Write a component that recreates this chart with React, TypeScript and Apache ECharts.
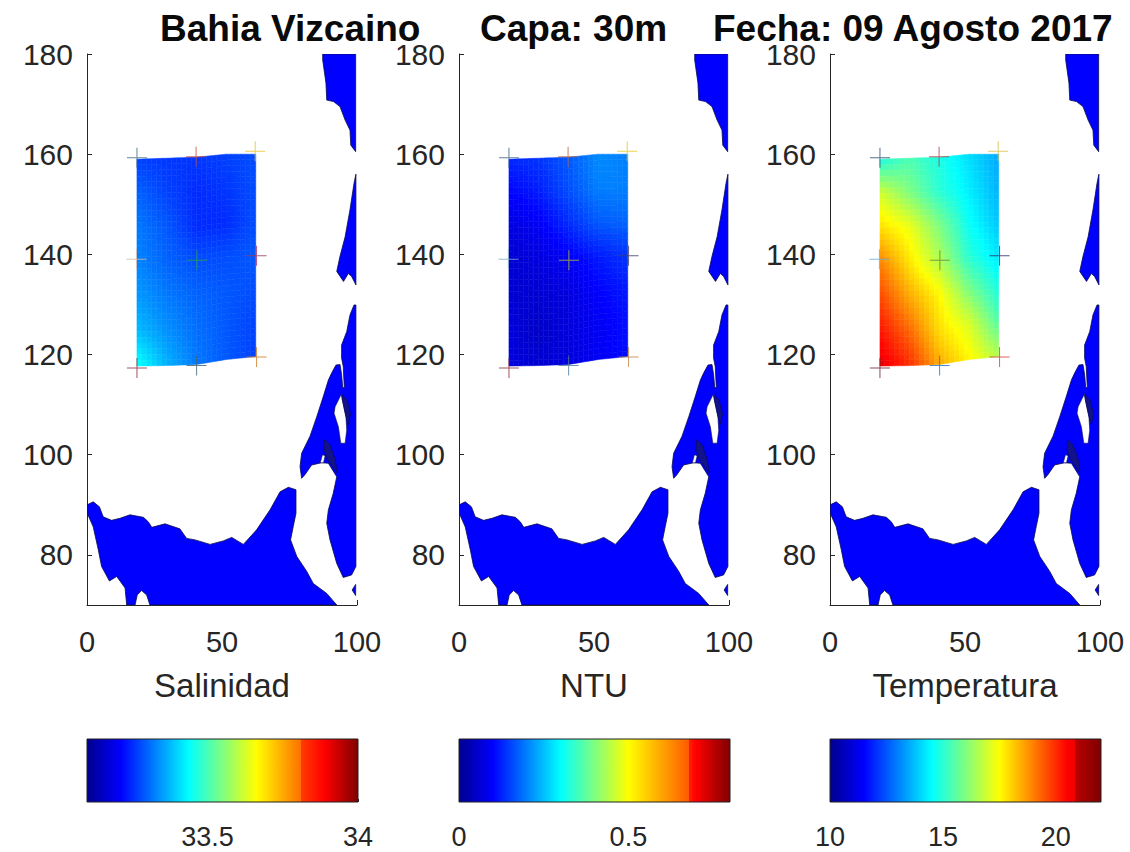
import React, { useEffect, useRef } from "react";
import * as echarts from "echarts";

const FONT = "'Liberation Sans', Arial, sans-serif";
const INK = "#262626";

const panelNames = ["Salinidad", "NTU", "Temperatura"];
const titles = ["Bahia Vizcaino", "Capa: 30m", "Fecha: 09 Agosto 2017"];
const titleLeft = [160, 480, 713];
const panelLeft = [87, 459, 830];

const xTicks = [0, 50, 100];
const yTicks = [80, 100, 120, 140, 160, 180];

const barMin = [33.1, 0, 10];
const barMax = [34, 0.8, 22];
const barTicks = [[33.5, 34], [0, 0.5], [10, 15, 20]];
const barSeam = [
  [0.79, "#ff7000", "#ff3c00"],
  [0.85, "#ff5a00", "#ff1e00"],
  [0.906, "#f00000", "#b80000"],
];

const jetStops: [number, string][] = [
  [0, "#00008f"],
  [0.125, "#0000ff"],
  [0.375, "#00ffff"],
  [0.625, "#ffff00"],
  [0.875, "#ff0000"],
  [1, "#800000"],
];

// Field nodes
const fieldLon = [18.5, 29.5, 40.5, 51.5, 62.5];
const fieldTop = [159, 159.2, 159.4, 160, 160];
const fieldBottom = [117.7, 117.8, 118, 119, 119.6];
const fieldRows = [0, 1 / 6, 2 / 6, 3 / 6, 4 / 6, 5 / 6, 1];

const salinity = [
  [33.27, 33.26, 33.26, 33.27, 33.28],
  [33.3, 33.27, 33.25, 33.26, 33.28],
  [33.32, 33.29, 33.25, 33.25, 33.28],
  [33.33, 33.3, 33.28, 33.28, 33.29],
  [33.35, 33.32, 33.3, 33.29, 33.28],
  [33.38, 33.34, 33.31, 33.29, 33.27],
  [33.45, 33.37, 33.32, 33.29, 33.27],
];
const ntu = [
  [0.13, 0.14, 0.17, 0.21, 0.2],
  [0.1, 0.12, 0.16, 0.2, 0.2],
  [0.07, 0.09, 0.13, 0.17, 0.18],
  [0.06, 0.07, 0.09, 0.12, 0.14],
  [0.06, 0.06, 0.07, 0.1, 0.12],
  [0.07, 0.05, 0.07, 0.09, 0.11],
  [0.07, 0.06, 0.07, 0.09, 0.11],
];
const temperature = [
  [14.8, 15.4, 14.8, 14.1, 13.5],
  [17.0, 16.0, 15.0, 14.3, 13.6],
  [17.9, 17.3, 16.0, 14.6, 13.8],
  [19.0, 17.8, 16.6, 15.0, 14.2],
  [19.7, 18.5, 17.6, 16.0, 14.8],
  [20.3, 19.3, 17.9, 17.1, 15.5],
  [20.8, 20.0, 18.5, 17.6, 16.6],
];
const fields = [salinity, ntu, temperature];

// Stations
const stationLon = [18.5, 40.4, 62.3, 18.3, 40.7, 62.8, 18.5, 40.6, 62.8];
const stationLat = [159.3, 159.5, 160.6, 139, 138.8, 139.7, 117.3, 117.8, 119.5];
const stationColors = [
  ["#3f6a7c", "#c9482f", "#e8c020", "#d8b8a8", "#2ea03a", "#a03060", "#8a2a3a", "#40606e", "#d07a20"],
  ["#3f6080", "#b8623a", "#e6c820", "#80a8c8", "#b0b830", "#3a3a60", "#8a2a30", "#4a7a9a", "#c08040"],
  ["#2a4a70", "#b03a4a", "#d8c040", "#60b0d0", "#708040", "#2a2a70", "#6a2030", "#2070c0", "#d04030"],
];

// Coast
const southLand = [
  [0.1, 90], [2.3, 90.6], [4.6, 89.6], [6, 87.6], [9.1, 86.9], [12.2, 87.3], [15.9, 88], [20.9, 87.5],
  [22.7, 86.6], [24, 85.5], [28.9, 86.2], [34.4, 85.2], [36.9, 83.3], [40, 83], [45.6, 82.1], [50.5, 82.8],
  [53.6, 83.5], [57.9, 82.1], [62.8, 85], [67.8, 89], [71.5, 92.6], [74.6, 93.5], [77.4, 93], [77.4, 88.3],
  [76.4, 85.7], [75.4, 83], [77.7, 79.7], [81.4, 76.7], [83.8, 74.3], [88.8, 72.3], [92.5, 70], [23.3, 70],
  [22.1, 72], [20.2, 72.9], [18.6, 72], [17.8, 70], [14.7, 70], [14.1, 73.4], [11, 75.7], [8.3, 74.8],
  [5.4, 77.7], [4.2, 81], [2.3, 85.6], [0.1, 88.3],
];
const northLand = [
  [87.3, 180], [99.5, 180], [99.5, 160.5], [97.7, 161.8], [97.4, 164.8], [95.6, 166.8], [93.7, 169.5],
  [91.3, 170.5], [88.8, 170.8], [88.5, 174.2], [87.3, 178.8],
];
const midLand = [
  [99.6, 156], [99.6, 133.9], [98, 135.6], [96.8, 136.2], [95, 134.6], [92.5, 136.6], [93.7, 139.6],
  [95.6, 143.5], [97.4, 148.9], [98.9, 154.2],
];
const eastLand = [
  [99.4, 129.9], [99.6, 129.9], [99.6, 77.7], [98, 76], [94.9, 75.5], [92.5, 78.3], [90, 83], [88.8, 86.3],
  [89.4, 89], [91.2, 92.3], [92.5, 95.6], [89.4, 98.3], [86.9, 98.4], [83.2, 97.95], [80.7, 96], [79.5, 95.3],
  [78.9, 97.6], [79.5, 100.3], [82.6, 103.7], [85.1, 107.6], [87.5, 111.6], [89.4, 114.9], [90.6, 116.3],
  [92.2, 117.9], [93.7, 118], [94.3, 116], [94.7, 113.4], [95.3, 113.4], [94.9, 117.6], [94.3, 119.3],
  [94.3, 121.9], [96.2, 124.6], [97.4, 127.9], [98.9, 129.9],
];
const islet = [[98.2, 73], [99.5, 74.1], [99.5, 71.9]];
const landShapes = [southLand, northLand, midLand, eastLand, islet];

const lagoon = [
  [94.3, 112.2], [91.9, 109.6], [91.5, 108.3], [93.1, 105.6], [94, 102.3], [95.6, 102.3], [96.2, 104.9],
  [95.9, 107.6], [94.6, 110.9],
];
const notch = [[86.4, 98.4], [87.2, 100], [88.2, 99.8], [87.6, 98.4]];
const waterShapes = [lagoon, notch];

const reefA = [[88, 103], [90, 102], [92, 99], [92.6, 96.4], [91, 97.6], [89, 99], [87.8, 101]];
const reefB = [[94.2, 112], [96.3, 111], [97.6, 108.2], [96.8, 106], [95.9, 107.6], [94.6, 110.9]];
const reefShapes = [reefA, reefB];

function hexRgb(h: string) {
  return [parseInt(h.slice(1, 3), 16), parseInt(h.slice(3, 5), 16), parseInt(h.slice(5, 7), 16)];
}
function jet(t: number) {
  const v = Math.max(0, Math.min(1, t));
  for (let i = 1; i < jetStops.length; i++) {
    if (v <= jetStops[i][0]) {
      const [a, ca] = jetStops[i - 1];
      const [b, cb] = jetStops[i];
      const f = (v - a) / (b - a);
      const A = hexRgb(ca);
      const B = hexRgb(cb);
      return `rgb(${A.map((c, k) => Math.round(c + (B[k] - c) * f)).join(",")})`;
    }
  }
  return jetStops[jetStops.length - 1][1];
}

function polygonSeries(idx: number, shapes: number[][][], fill: string, stroke: string, lw: number, z: number) {
  return {
    type: "custom",
    xAxisIndex: idx,
    yAxisIndex: idx,
    silent: true,
    clip: true,
    z,
    data: shapes.map((_, i) => [i]),
    renderItem: (params: any, api: any) => ({
      type: "polygon",
      shape: { points: shapes[params.dataIndex].map((p) => api.coord(p)) },
      style: { fill, stroke, lineWidth: lw, lineJoin: "round" },
    }),
  };
}

function fieldSeries(idx: number) {
  const grid = fields[idx];
  const vmin = barMin[idx];
  const vmax = barMax[idx];
  const cells: number[][] = [];
  for (let r = 0; r < fieldRows.length - 1; r++) {
    for (let c = 0; c < fieldLon.length - 1; c++) cells.push([c, r]);
  }
  const SUB = 6;
  const nodeAt = (c: number, r: number, u: number, v: number) => {
    const lon = fieldLon[c] + (fieldLon[c + 1] - fieldLon[c]) * u;
    const top = fieldTop[c] + (fieldTop[c + 1] - fieldTop[c]) * u;
    const bot = fieldBottom[c] + (fieldBottom[c + 1] - fieldBottom[c]) * u;
    const w = fieldRows[r] + (fieldRows[r + 1] - fieldRows[r]) * v;
    return [lon, top + (bot - top) * w];
  };
  return {
    type: "custom",
    xAxisIndex: idx,
    yAxisIndex: idx,
    silent: true,
    clip: false,
    z: 5,
    data: cells,
    renderItem: (params: any, api: any) => {
      const [c, r] = cells[params.dataIndex];
      const q00 = grid[r][c];
      const q10 = grid[r][c + 1];
      const q01 = grid[r + 1][c];
      const q11 = grid[r + 1][c + 1];
      const children: any[] = [];
      for (let i = 0; i < SUB; i++) {
        for (let j = 0; j < SUB; j++) {
          const u = (i + 0.5) / SUB;
          const v = (j + 0.5) / SUB;
          const val = q00 * (1 - u) * (1 - v) + q10 * u * (1 - v) + q01 * (1 - u) * v + q11 * u * v;
          const col = jet((val - vmin) / (vmax - vmin));
          children.push({
            type: "polygon",
            shape: {
              points: [
                api.coord(nodeAt(c, r, i / SUB, j / SUB)),
                api.coord(nodeAt(c, r, (i + 1) / SUB, j / SUB)),
                api.coord(nodeAt(c, r, (i + 1) / SUB, (j + 1) / SUB)),
                api.coord(nodeAt(c, r, i / SUB, (j + 1) / SUB)),
              ],
            },
            style: { fill: col, stroke: col, lineWidth: 0.5 },
          });
        }
      }
      return { type: "group", children };
    },
  };
}

const PLUS = "path://M9.5 0H10.5V20H9.5ZM0 9.5H20V10.5H0Z";

function stationSeries(idx: number) {
  return {
    type: "scatter",
    xAxisIndex: idx,
    yAxisIndex: idx,
    silent: true,
    z: 8,
    symbol: PLUS,
    symbolSize: 20,
    data: stationLon.map((lon, i) => ({
      value: [lon, stationLat[i]],
      itemStyle: { color: stationColors[idx][i] },
    })),
  };
}

function barSeries(idx: number) {
  const [seam, before, after] = barSeam[idx] as [number, string, string];
  const stops: { offset: number; color: string }[] = [];
  jetStops.forEach(([o, c]) => {
    if (o < seam) stops.push({ offset: o, color: c });
  });
  stops.push({ offset: seam - 0.001, color: before }, { offset: seam, color: after });
  jetStops.forEach(([o, c]) => {
    if (o > seam) stops.push({ offset: o, color: c });
  });
  return {
    type: "custom",
    xAxisIndex: 3 + idx,
    yAxisIndex: 3 + idx,
    silent: true,
    clip: false,
    z: 3,
    data: [[barMin[idx], barMax[idx]]],
    renderItem: (_p: any, api: any) => {
      const a = api.coord([api.value(0), 1]);
      const b = api.coord([api.value(1), 0]);
      return {
        type: "rect",
        shape: { x: a[0], y: a[1], width: b[0] - a[0], height: b[1] - a[1] },
        style: {
          fill: new echarts.graphic.LinearGradient(0, 0, 1, 0, stops),
          stroke: "#222",
          lineWidth: 1,
        },
      };
    },
  };
}

const App: React.FC = () => {
  const ref = useRef<HTMLDivElement>(null);
  useEffect(() => {
    const chart = echarts.init(ref.current!, undefined, { renderer: "svg" });
    const axisLine = { show: true, onZero: false, lineStyle: { color: INK, width: 1 } };
    const tick = { show: true, inside: true, length: 5, lineStyle: { color: INK, width: 1 } };
    const panelGrids = panelLeft.map((left) => ({ left, top: 54, width: 270, height: 551 }));
    const barGrids = panelLeft.map((left) => ({ left, top: 739, width: 271, height: 63 }));

    const xAxes = [
      ...panelNames.map((name, i) => ({
        type: "value",
        gridIndex: i,
        min: 0,
        max: 100,
        interval: 50,
        name,
        nameLocation: "middle",
        nameGap: 64,
        nameTextStyle: { fontSize: 33, color: INK, fontFamily: FONT },
        axisLine,
        axisTick: tick,
        splitLine: { show: false },
        axisLabel: {
          fontSize: 29,
          color: INK,
          fontFamily: FONT,
          margin: 22,
          customValues: xTicks,
        },
      })),
      ...panelNames.map((_, i) => ({
        type: "value",
        gridIndex: 3 + i,
        min: barMin[i],
        max: barMax[i],
        axisLine: { show: false },
        axisTick: { ...tick, length: 3, customValues: barTicks[i] },
        splitLine: { show: false },
        axisLabel: {
          fontSize: 27,
          color: INK,
          fontFamily: FONT,
          margin: 21,
          customValues: barTicks[i],
        },
      })),
    ];
    const yAxes = [
      ...panelNames.map((_, i) => ({
        type: "value",
        gridIndex: i,
        min: 70,
        max: 180,
        axisLine,
        axisTick: { ...tick, customValues: yTicks },
        splitLine: { show: false },
        axisLabel: {
          fontSize: 30,
          color: INK,
          fontFamily: FONT,
          margin: 14,
          customValues: yTicks,
        },
      })),
      ...panelNames.map((_, i) => ({
        type: "value",
        gridIndex: 3 + i,
        min: 0,
        max: 1,
        show: false,
      })),
    ];

    const series: any[] = [];
    panelNames.forEach((_, i) => {
      series.push(polygonSeries(i, landShapes, "#0000ff", "#0a0a50", 0.8, 2));
      series.push(polygonSeries(i, waterShapes, "#ffffff", "#0a0a50", 0.6, 3));
      series.push(polygonSeries(i, reefShapes, "#12128a", "#0a0a50", 0.6, 4));
      series.push(fieldSeries(i));
      series.push(stationSeries(i));
      series.push(barSeries(i));
    });

    chart.setOption({
      animation: false,
      backgroundColor: "#ffffff",
      title: titles.map((text, i) => ({
        text,
        left: titleLeft[i],
        top: 10,
        padding: 0,
        textStyle: { fontSize: 37, fontWeight: "bold", color: "#0a0a0a", fontFamily: FONT },
      })),
      grid: [...panelGrids, ...barGrids],
      xAxis: xAxes,
      yAxis: yAxes,
      series,
    });
    return () => chart.dispose();
  }, []);
  return (
    <div
      ref={ref}
      style={{ position: "fixed", left: 0, top: 0, width: 1130, height: 852, background: "#fff" }}
    />
  );
};

export default App;
